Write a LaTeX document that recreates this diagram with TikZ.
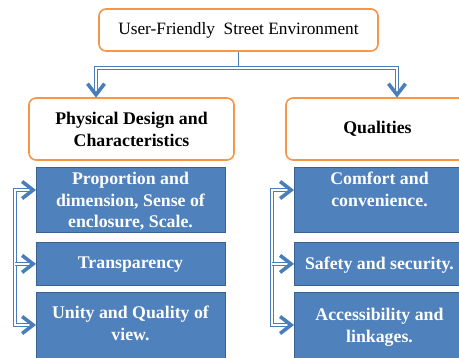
\documentclass[tikz,border=0pt]{standalone}
\usepackage{fontspec}
\setmainfont{Liberation Serif}
\usetikzlibrary{positioning}

\definecolor{boxorange}{HTML}{F79646}
\definecolor{boxblue}{HTML}{4F81BD}
\definecolor{linkblue}{HTML}{4A7EBB}

\tikzset{
  headbox/.style={draw=boxorange, line width=1.6pt, rounded corners=7pt, fill=white, align=center},
  itembox/.style={draw=boxblue!75!black, line width=0.8pt, fill=boxblue, anchor=north},
  itemtext/.style={text=white, font=\bfseries\fontsize{17.8}{21.5}\selectfont, align=center, anchor=north, inner sep=0pt},
  link/.style={draw=linkblue, double=white, double distance=1.6pt, line width=0.9pt},
  chev/.style={draw=linkblue, line width=3.6pt, line join=miter, line cap=butt}
}

% open arrow heads, apex at #1
\newcommand{\tipdown}[1]{\draw[chev] ([shift={(-8.5pt,11pt)}]#1) -- (#1) -- ([shift={(8.5pt,11pt)}]#1);}
\newcommand{\tipright}[1]{\draw[chev] ([shift={(-11pt,8.5pt)}]#1) -- (#1) -- ([shift={(-11pt,-8.5pt)}]#1);}

\begin{document}
\begin{tikzpicture}[x=1pt,y=-1pt]
  \useasboundingbox (0,0) rectangle (459,357);
  \clip (0,0) rectangle (459,357);

  % top level and the two headings
  \node[headbox, minimum width=279pt, minimum height=42pt, font=\fontsize{17.3}{20}\selectfont] (env) at (238.5,30) {User-Friendly\ \ Street Environment};
  \node[headbox, minimum width=205pt, minimum height=62pt, font=\bfseries\fontsize{17.8}{22}\selectfont] (phys) at (131.5,129) {Physical Design and\\Characteristics};
  \node[headbox, minimum width=183pt, minimum height=62pt, font=\bfseries\fontsize{17.8}{22}\selectfont] (qual) at (377.5,129) {Qualities};

  % blue boxes, left column
  \node[itembox, minimum width=189pt, minimum height=65pt] (p1) at (130.5,167) {};
  \node[itembox, minimum width=189pt, minimum height=43pt] (p2) at (130.5,242) {};
  \node[itembox, minimum width=189pt, minimum height=80pt] (p3) at (130.5,292) {};
  \node[itemtext] (p1t) at ([yshift=-5pt]p1.north) {Proportion and\\dimension, Sense of\\enclosure, Scale.};
  \node[itemtext] (p2t) at ([yshift=-15pt]p2.north) {Transparency};
  \node[itemtext] (p3t) at ([yshift=-14pt]p3.north) {Unity and Quality of\\view.};

  % blue boxes, right column
  \node[itembox, minimum width=171pt, minimum height=65pt] (q1) at (379.5,167) {};
  \node[itembox, minimum width=171pt, minimum height=43pt] (q2) at (379.5,242) {};
  \node[itembox, minimum width=171pt, minimum height=80pt] (q3) at (379.5,292) {};
  \node[itemtext] (q1t) at ([yshift=-5pt]q1.north) {Comfort and\\convenience.};
  \node[itemtext] (q2t) at ([yshift=-15pt]q2.north) {Safety and security.};
  \node[itemtext] (q3t) at ([yshift=-16pt]q3.north) {Accessibility and\\linkages.};

  % fork under the top box
  \coordinate (fork) at (238.5,68);
  \coordinate (forkL) at (96,68);
  \coordinate (forkR) at (397,68);
  \coordinate (physin) at ([yshift=2.5pt]phys.north -| forkL);
  \coordinate (qualin) at ([yshift=2.5pt]qual.north -| forkR);
  \draw[linkblue, line width=0.9pt] (env.south) -- (fork);
  \draw[link] (fork) -| (physin);
  \draw[link] (fork) -| (qualin);
  \tipdown{physin}
  \tipdown{qualin}

  % brackets down the left of each column
  \coordinate (pa) at (15,190);
  \coordinate (pb) at (15,325);
  \coordinate (p1in) at ([xshift=-2.5pt]pa -| p1.west);
  \coordinate (p2in) at ([xshift=-2.5pt]p2.west);
  \coordinate (p3in) at ([xshift=-2.5pt]pb -| p3.west);
  \draw[link] (p1in) -- (pa) -- (pb) -- (p3in);
  \draw[link] (pa |- p2in) -- (p2in);
  \tipright{p1in}
  \tipright{p2in}
  \tipright{p3in}

  \coordinate (qa) at (272,190);
  \coordinate (qb) at (272,325);
  \coordinate (q1in) at ([xshift=-2.5pt]qa -| q1.west);
  \coordinate (q2in) at ([xshift=-2.5pt]q2.west);
  \coordinate (q3in) at ([xshift=-2.5pt]qb -| q3.west);
  \draw[link] (q1in) -- (qa) -- (qb) -- (q3in);
  \draw[link] (qa |- q2in) -- (q2in);
  \tipright{q1in}
  \tipright{q2in}
  \tipright{q3in}
\end{tikzpicture}
\end{document}
